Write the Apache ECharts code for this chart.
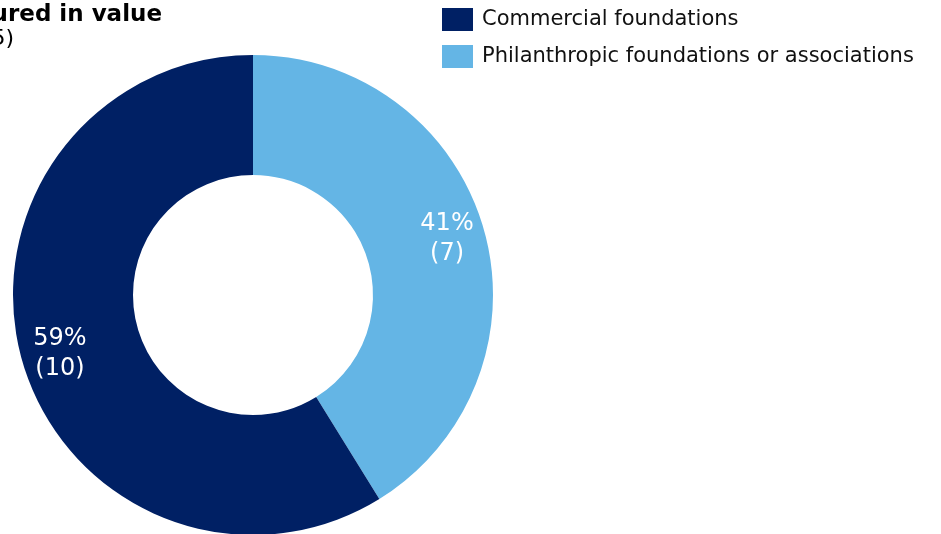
<!DOCTYPE html>
<html>
<head>
<meta charset="utf-8">
<script src="https://cdn.jsdelivr.net/npm/echarts@6/dist/echarts.min.js"></script>
<style>
  html, body { margin: 0; padding: 0; background: #fff; }
  #chart { width: 941px; height: 534px; }
</style>
</head>
<body>
<div id="chart"></div>
<script>
// Foundation types, listed clockwise from 12 o'clock
const categories = ['Philanthropic foundations or associations', 'Commercial foundations'];
const counts = [7, 10];
const colors = ['#64B5E5', '#002064'];
const legendOrder = ['Commercial foundations', 'Philanthropic foundations or associations'];
const titleLines = ['Foundations measured in value', '(2015)'];

// push each label a little towards the outer rim
const labelOffsets = [[18, -6], [-17, 9]];

const chart = echarts.init(document.getElementById('chart'), null, { renderer: 'canvas' });

const font = '"DejaVu Sans", Verdana, sans-serif';

chart.setOption({
  animation: false,
  title: [
    {
      text: titleLines[0],
      left: 157,
      top: -1,
      textAlign: 'right',
      textStyle: { fontFamily: font, fontSize: 23, fontWeight: 'bold', color: '#000' }
    },
    {
      text: titleLines[1],
      left: 9,
      top: 23,
      textAlign: 'right',
      textStyle: { fontFamily: font, fontSize: 22, fontWeight: 'normal', color: '#000' }
    }
  ],
  legend: {
    orient: 'vertical',
    left: 442,
    top: 8,
    padding: 0,
    itemWidth: 31,
    itemHeight: 23,
    itemGap: 14,
    icon: 'rect',
    data: legendOrder,
    textStyle: { fontFamily: font, fontSize: 21, color: '#111', padding: [0, 0, 0, 4] }
  },
  series: [{
    type: 'pie',
    center: [253, 295],
    radius: [120, 240],
    startAngle: 90,
    clockwise: true,
    percentPrecision: 0,
    avoidLabelOverlap: false,
    emphasis: { disabled: true },
    label: {
      show: true,
      position: 'inside',
      formatter: '{d}%\n({c})',
      fontFamily: font,
      fontSize: 24,
      lineHeight: 30,
      color: '#fff'
    },
    labelLine: { show: false },
    data: categories.map((name, i) => ({
      name: name,
      value: counts[i],
      itemStyle: { color: colors[i] },
      label: { offset: labelOffsets[i] }
    }))
  }]
});
</script>
</body>
</html>
